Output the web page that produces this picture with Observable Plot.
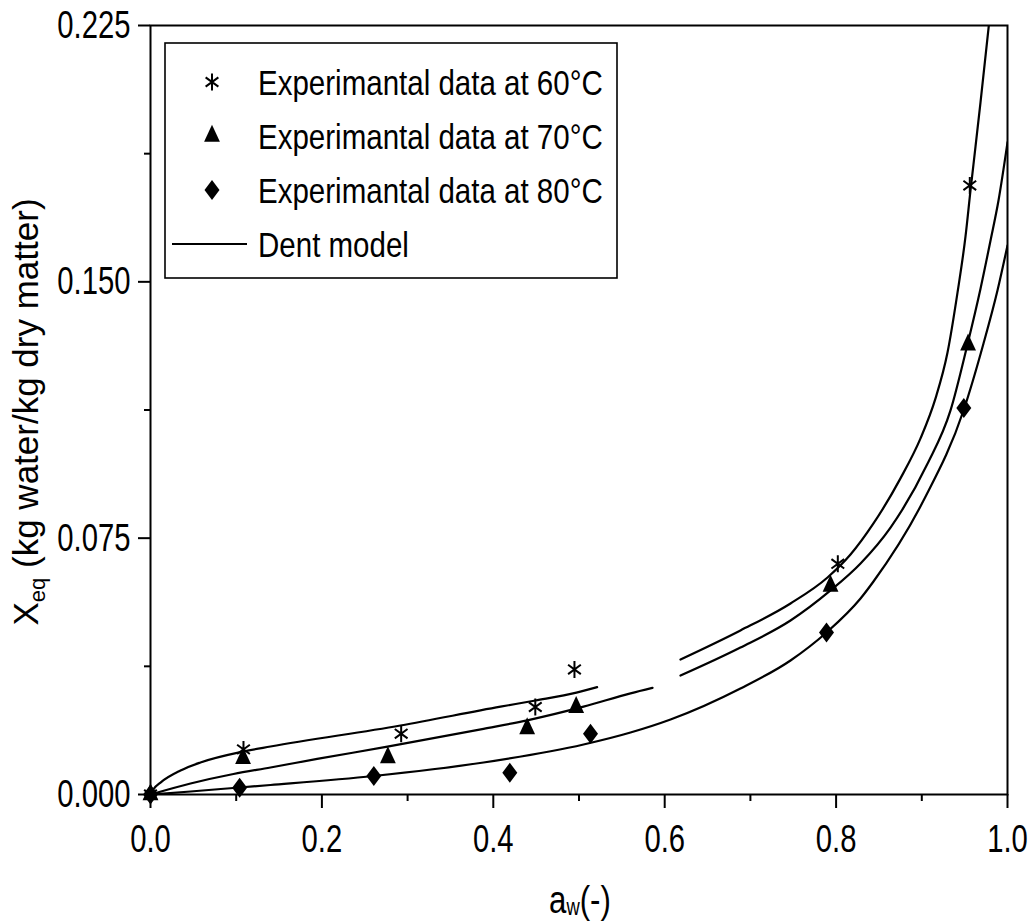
<!DOCTYPE html>
<html><head><meta charset="utf-8">
<script src="https://cdn.jsdelivr.net/npm/d3@7"></script>
<script src="https://cdn.jsdelivr.net/npm/@observablehq/plot@0.6"></script>
<style>
body{margin:0;background:#fff;}
#chart{position:relative;width:1032px;height:924px;}
</style></head><body><div id="chart"></div>
<script>
// ---- Experimental data ----
const aw60 = [0, 0.1085, 0.2925, 0.449, 0.4947, 0.802, 0.956];
const xeq60 = [0, 0.0132, 0.0178, 0.0256, 0.0366, 0.0675, 0.1782];
const aw70 = [0, 0.108, 0.277, 0.4395, 0.4967, 0.7935, 0.954];
const xeq70 = [0, 0.0106, 0.0108, 0.0193, 0.0255, 0.061, 0.1316];
const aw80 = [0, 0.104, 0.2606, 0.4193, 0.5134, 0.7888, 0.949];
const xeq80 = [0, 0.002, 0.0054, 0.0064, 0.0178, 0.0474, 0.1131];

// ---- Dent model curves, seg = drawn piece ----
const dent60Aw  = [0, 0.004, 0.0117, 0.035, 0.0583, 0.1085, 0.14, 0.2917, 0.4084, 0.4492, 0.497, 0.5212,
                   0.6184, 0.6884, 0.7468, 0.79, 0.8168, 0.8436, 0.8751, 0.8985, 0.916, 0.93, 0.9417, 0.951, 0.9568, 0.9627, 0.9685, 0.9782];
const dent60Xeq = [0, 0.0017, 0.0035, 0.00702, 0.00936, 0.01258, 0.01404, 0.0202, 0.0257, 0.0275, 0.0298, 0.0314,
                   0.0395, 0.048, 0.0559, 0.0635, 0.0702, 0.0793, 0.0925, 0.1042, 0.1159, 0.1293, 0.1469, 0.1633, 0.1767, 0.1896, 0.2025, 0.225];
const dent60Seg = [0,0,0,0,0,0,0,0,0,0,0,0, 1,1,1,1,1,1,1,1,1,1,1,1,1,1,1,1];

const dent70Aw  = [0, 0.0467, 0.0968, 0.14, 0.1945, 0.2765, 0.3886, 0.4396, 0.5053, 0.5601, 0.5858,
                   0.6184, 0.6884, 0.7468, 0.7935, 0.8285, 0.8635, 0.9063, 0.9335, 0.953, 0.9685, 0.9802, 0.9895, 1.0];
const dent70Xeq = [0, 0.00322, 0.006, 0.0079, 0.0104, 0.014, 0.0192, 0.0217, 0.0257, 0.0296, 0.0312,
                   0.0348, 0.043, 0.0509, 0.0597, 0.0676, 0.0781, 0.0966, 0.1124, 0.1314, 0.148, 0.1621, 0.1738, 0.1908];
const dent70Seg = [0,0,0,0,0,0,0,0,0,0,0, 1,1,1,1,1,1,1,1,1,1,1,1,1];

const dent80Aw  = [0, 0.0467, 0.1039, 0.14, 0.2602, 0.3886, 0.5053, 0.5601, 0.6068, 0.6884, 0.7468, 0.7888,
                   0.8285, 0.8436, 0.902, 0.9487, 0.972, 0.9883, 1.0];
const dent80Xeq = [0, 0.00088, 0.00205, 0.00278, 0.00541, 0.00936, 0.01463, 0.01814, 0.02195, 0.03102, 0.03921, 0.0474,
                   0.05735, 0.06232, 0.08602, 0.11236, 0.13196, 0.14747, 0.16064];

// ---- Axes ----
const xTicks = [0, 0.2, 0.4, 0.6, 0.8, 1.0];
const xMinorTicks = [0.1, 0.3, 0.5, 0.7, 0.9];
const yTicks = [0, 0.075, 0.15, 0.225];
const yMinorTicks = [0.0375, 0.1125, 0.1875];
const legendLabels = ["Experimantal data at 60°C", "Experimantal data at 70°C", "Experimantal data at 80°C", "Dent model"];

const REG = '"Liberation Sans",Arial,sans-serif';

// custom symbols
function sym(fn){ return {draw(ctx, size){ fn(ctx, Math.sqrt(size/Math.PI)); }}; }
const drawStar = (c, r) => { c.moveTo(0,-r); c.lineTo(0,r); const a=r*0.75, b=r*0.55; c.moveTo(-a,-b); c.lineTo(a,b); c.moveTo(-a,b); c.lineTo(a,-b); };
const drawTri = (c, r) => { c.moveTo(0,-4*r/3); c.lineTo(0.93*r, 2*r/3); c.lineTo(-0.93*r, 2*r/3); c.closePath(); };
const drawDia = (c, r) => { c.moveTo(0,-r); c.lineTo(0.75*r,0); c.lineTo(0,r); c.lineTo(-0.75*r,0); c.closePath(); };
const starSym = sym(drawStar), triSym = sym(drawTri), diaSym = sym(drawDia);

const pts = (a, b) => a.map((v, i) => ({aw: v, xeq: b[i]}));
const curveRows = [];
dent60Aw.forEach((v,i)=>curveRows.push({aw:v, xeq:dent60Xeq[i], id:"60-"+dent60Seg[i]}));
dent70Aw.forEach((v,i)=>curveRows.push({aw:v, xeq:dent70Xeq[i], id:"70-"+dent70Seg[i]}));
dent80Aw.forEach((v,i)=>curveRows.push({aw:v, xeq:dent80Xeq[i], id:"80"}));

const chart = Plot.plot({
  width: 1032, height: 924,
  marginLeft: 150, marginRight: 25, marginTop: 25, marginBottom: 130,
  x: {domain: [0, 1], label: null},
  y: {domain: [0, 0.225], label: null},
  style: {background: "white", color: "black", fontFamily: REG, overflow: "visible"},
  marks: [
    Plot.line(curveRows, {x: "aw", y: "xeq", z: "id", stroke: "black", strokeWidth: 2.2, curve: "monotone-x", clip: true}),
    Plot.dot(pts(aw60, xeq60), {x: "aw", y: "xeq", symbol: starSym, r: 8.5, fill: "none", stroke: "black", strokeWidth: 2}),
    Plot.dot(pts(aw70, xeq70), {x: "aw", y: "xeq", symbol: triSym, r: 8.5, fill: "black", stroke: "none"}),
    Plot.dot(pts(aw80, xeq80), {x: "aw", y: "xeq", symbol: diaSym, r: 10, fill: "black", stroke: "none"}),
    Plot.frame({stroke: "black", strokeWidth: 2}),
    Plot.axisX({ticks: xTicks, tickSize: 14, tickPadding: 16, strokeWidth: 2, tickFormat: d3.format(".1f"), fontSize: 39, label: null}),
    Plot.axisX({ticks: xMinorTicks, tickSize: 7, strokeWidth: 2, tickFormat: () => "", label: null}),
    Plot.axisY({ticks: yTicks, tickSize: 12, tickPadding: 8, strokeWidth: 2, tickFormat: d3.format(".3f"), fontSize: 39, label: null}),
    Plot.axisY({ticks: yMinorTicks, tickSize: 6, strokeWidth: 2, tickFormat: () => "", label: null})
  ]
});
document.getElementById("chart").appendChild(chart);

const svg = d3.select(chart);
// narrow tick labels: horizontal scale around each label's anchor
svg.selectAll('g[aria-label$="tick label"] text').each(function(){
  const t = this.getAttribute("transform");
  if (t) this.setAttribute("transform", t + " scale(0.75,1)");
});

// axis titles
const yl = svg.append("text").attr("transform", "translate(38,412) rotate(-90)")
  .attr("text-anchor", "middle").attr("font-family", REG).attr("font-size", 35).attr("fill", "black");
yl.append("tspan").text("X");
yl.append("tspan").attr("font-size", 22).attr("dy", 7).text("eq");
yl.append("tspan").attr("dy", -7).text(" (kg water/kg dry matter)");

const xl = svg.append("text").attr("transform", "translate(580,913) scale(0.8,1)")
  .attr("text-anchor", "middle").attr("font-family", REG).attr("font-size", 39).attr("fill", "black");
xl.append("tspan").text("a");
xl.append("tspan").attr("font-size", 23).attr("dy", 2).text("w");
xl.append("tspan").attr("dy", -2).text("(-)");

// legend
const lg = svg.append("g");
lg.append("rect").attr("x", 165).attr("y", 43).attr("width", 452).attr("height", 235)
  .attr("fill", "white").attr("stroke", "black").attr("stroke-width", 1.6);
const rowY = [82, 136, 190, 244];
const legSyms = [[drawStar, 8.5, "none", "black"], [drawTri, 8.5, "black", "none"], [drawDia, 10, "black", "none"]];
legSyms.forEach(([fn, r, fill, stroke], i) => {
  const p = d3.path(); fn(p, r);
  lg.append("path").attr("d", p.toString()).attr("transform", `translate(212,${rowY[i]})`)
    .attr("fill", fill).attr("stroke", stroke).attr("stroke-width", 2);
});
lg.append("line").attr("x1", 172).attr("x2", 247).attr("y1", rowY[3]).attr("y2", rowY[3])
  .attr("stroke", "black").attr("stroke-width", 2.2);
legendLabels.forEach((t, i) => {
  lg.append("text").attr("transform", `translate(258,${rowY[i]}) scale(0.82,1)`).attr("dy", "0.36em")
    .attr("text-anchor", "start").attr("font-family", REG).attr("font-size", 36).attr("fill", "black").text(t);
});
</script>
</body></html>
